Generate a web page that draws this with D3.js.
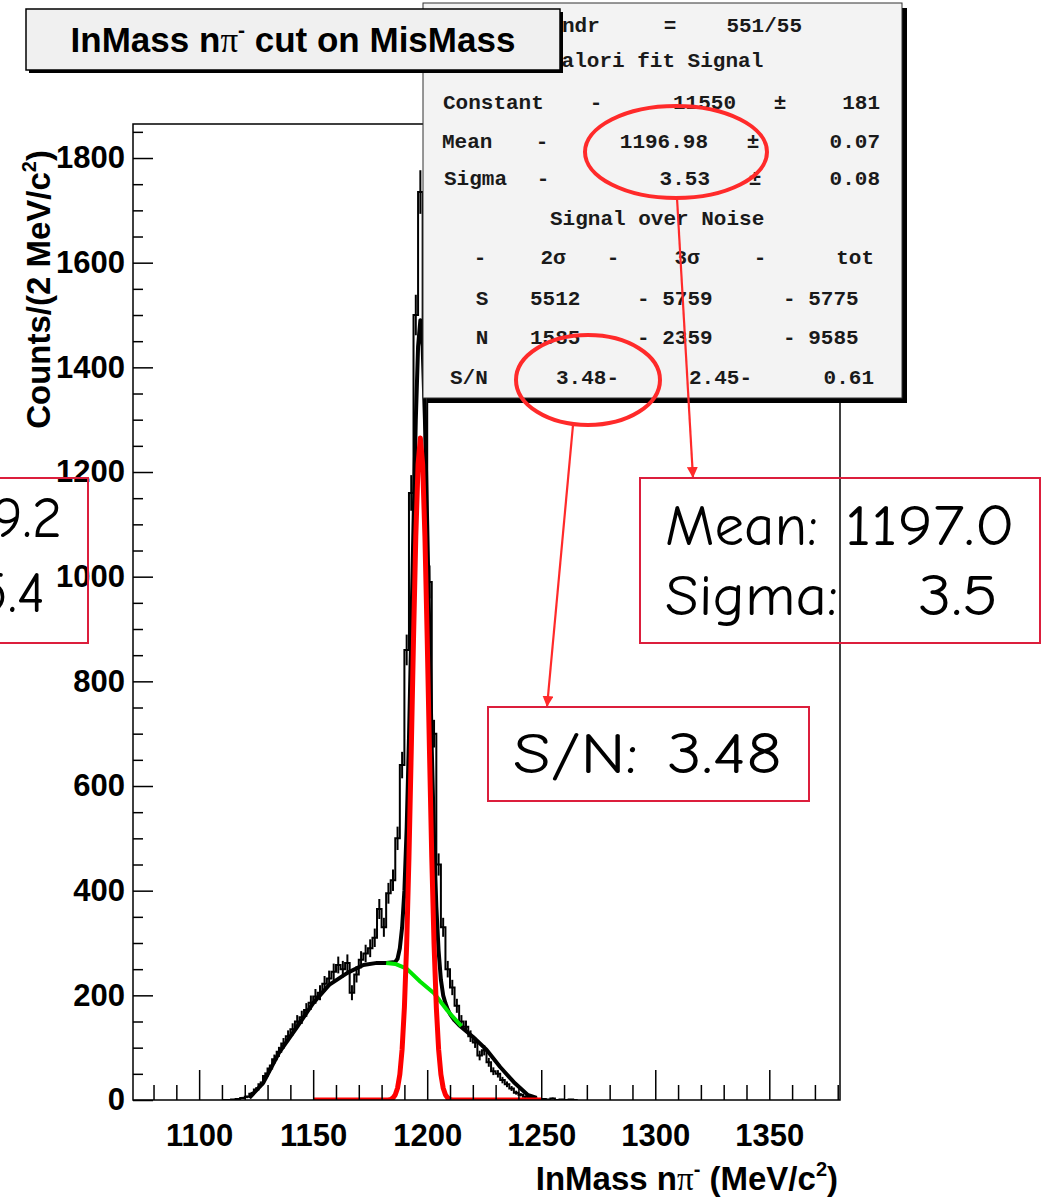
<!DOCTYPE html>
<html>
<head>
<meta charset="utf-8">
<script src="https://cdn.jsdelivr.net/npm/d3@7"></script>
<style>
  body { margin: 0; background: #fff; }
</style>
</head>
<body>
<svg width="1046" height="1198"></svg>
<script>
// histogram bins (2 MeV wide)
var binCenters = [1111, 1113, 1115, 1117, 1119, 1121, 1123, 1125, 1127, 1129,
                  1131, 1133, 1135, 1137, 1139, 1141, 1143, 1145, 1147, 1149,
                  1151, 1153, 1155, 1157, 1159, 1161, 1163, 1165, 1167, 1169,
                  1171, 1173, 1175, 1177, 1179, 1181, 1183, 1185, 1187, 1189,
                  1191, 1193, 1195, 1197, 1199, 1201, 1203, 1205, 1207, 1209,
                  1211, 1213, 1215, 1217, 1219, 1221, 1223, 1225, 1227, 1229,
                  1231, 1233, 1235, 1237, 1239, 1241, 1243, 1245, 1247, 1249,
                  1251, 1253, 1255, 1257, 1259, 1261, 1263, 1265];
var counts = [0, 0, 1, 2, 4, 6, 12, 20, 30, 46,
              60, 78, 92, 108, 122, 135, 150, 158, 172, 186,
              198, 205, 222, 232, 245, 258, 250, 262, 205, 240,
              268, 280, 290, 310, 365, 330, 395, 420, 500, 640,
              860, 1160, 1500, 1735, 1420, 990, 700, 450, 330, 250,
              215, 180, 150, 140, 122, 110, 85, 95, 72, 55,
              50, 38, 30, 22, 14, 10, 6, 4, 3, 2,
              2, 1, 3, 0, 1, 0, 1, 0];

// total fit (black)
var fitX = [1122, 1128, 1135, 1143, 1150, 1157, 1165, 1172, 1178, 1182, 1185, 1186,
            1187, 1188, 1189, 1190, 1191, 1192, 1193, 1194, 1195, 1196, 1197, 1198,
            1199, 1200, 1201, 1202, 1203, 1204, 1205, 1206, 1207, 1208, 1209, 1210,
            1212, 1214, 1220, 1226, 1232, 1238, 1244, 1248];
var fitY = [4, 32, 90, 140, 185, 220, 243, 258, 262, 262, 263, 264,
            270, 290, 330, 400, 520, 690, 890, 1100, 1300, 1440, 1490, 1440,
            1300, 1100, 880, 670, 500, 370, 285, 230, 200, 185, 173, 164,
            152, 143, 121, 96, 63, 34, 10, 4];

// background (green)
var bgX = [1182, 1186, 1191, 1197, 1203, 1209, 1215];
var bgY = [262, 260, 251, 226, 204, 170, 141];

// signal gaussian (red)
var gausX = [1150, 1183, 1184, 1185, 1186, 1187, 1188, 1189, 1190, 1191, 1192, 1193,
             1194, 1195, 1196, 1197, 1198, 1199, 1200, 1201, 1202, 1203, 1204,
             1205, 1206, 1207, 1208, 1209, 1210, 1211, 1250];
var gausY = [0, 0, 1, 4, 10, 23, 49, 97, 177, 298, 464, 666,
             882, 1077, 1215, 1265, 1215, 1077, 882, 666, 464, 298, 177,
             97, 49, 23, 10, 4, 1, 0, 0];

var yMajor = [0, 200, 400, 600, 800, 1000, 1200, 1400, 1600, 1800];
var xMajor = [1100, 1150, 1200, 1250, 1300, 1350];

var svg = d3.select("svg");
var sans = "'Liberation Sans', Arial, Helvetica, sans-serif";
var mono = "'Liberation Mono', 'Courier New', monospace";
var hand = "'Comic Sans MS', 'Comic Neue', 'Open Sans', sans-serif";

var x = d3.scaleLinear().domain([1071, 1381]).range([133, 840]),
    y = d3.scaleLinear().domain([0, 1865]).range([1100, 124]);

svg.append("defs").append("clipPath").attr("id", "plot")
  .append("rect")
    .attr("x", x.range()[0]).attr("y", y.range()[1])
    .attr("width", x.range()[1] - x.range()[0])
    .attr("height", y.range()[0] - y.range()[1]);

var plot = svg.append("g").attr("clip-path", "url(#plot)");

// data histogram: steps + error bars
var edges = [];
binCenters.forEach(function(c, i) {
  edges.push([c - 1, counts[i]], [c + 1, counts[i]]);
});
var line = d3.line()
    .x(function(d) { return x(d[0]); })
    .y(function(d) { return y(d[1]); });

plot.append("path")
    .datum(edges)
    .attr("fill", "none")
    .attr("stroke", "#000")
    .attr("stroke-width", 2)
    .attr("d", line);

plot.selectAll(".err")
  .data(binCenters.map(function(c, i) { return [c, counts[i]]; })
                  .filter(function(d) { return d[1] > 0; }))
  .enter().append("line")
    .attr("class", "err")
    .attr("x1", function(d) { return x(d[0]); })
    .attr("x2", function(d) { return x(d[0]); })
    .attr("y1", function(d) { return y(d[1] - Math.sqrt(d[1])); })
    .attr("y2", function(d) { return y(d[1] + Math.sqrt(d[1])); })
    .attr("stroke", "#000")
    .attr("stroke-width", 2);

function curve(xs, ys, color, w) {
  plot.append("path")
      .datum(xs.map(function(v, i) { return [v, ys[i]]; }))
      .attr("fill", "none")
      .attr("stroke", color)
      .attr("stroke-width", w)
      .attr("stroke-linejoin", "round")
      .attr("d", line);
}
curve(fitX, fitY, "#000", 4);
curve(bgX, bgY, "#00e600", 4);
curve(gausX, gausY, "#ff0000", 5);

// frame
svg.append("rect")
    .attr("x", 133).attr("y", 124)
    .attr("width", 707).attr("height", 976)
    .attr("fill", "none")
    .attr("stroke", "#000")
    .attr("stroke-width", 1.5);

// axes
function styleAxis(g) {
  g.select(".domain").remove();
  g.selectAll(".tick line").attr("stroke", "#000").attr("stroke-width", 1.5);
  g.selectAll(".tick text")
    .attr("fill", "#000")
    .style("font-family", sans)
    .style("font-weight", "bold")
    .style("font-size", "31px");
}

var yMinor = d3.range(0, 1851, 50).filter(function(v) { return v % 200; });
svg.append("g").attr("transform", "translate(133,0)")
    .call(d3.axisLeft(y).tickValues(yMinor).tickSize(-10).tickFormat(""))
    .call(styleAxis);
svg.append("g").attr("transform", "translate(133,0)")
    .call(d3.axisLeft(y).tickValues(yMajor).tickSize(-20).tickPadding(8).tickFormat(d3.format("d")))
    .call(styleAxis);

var xMinor = d3.range(1080, 1381, 10).filter(function(v) { return v % 50; });
svg.append("g").attr("transform", "translate(0,1100)")
    .call(d3.axisBottom(x).tickValues(xMinor).tickSize(-15).tickFormat(""))
    .call(styleAxis);
svg.append("g").attr("transform", "translate(0,1100)")
    .call(d3.axisBottom(x).tickValues(xMajor).tickSize(-30).tickPadding(24).tickFormat(d3.format("d")))
    .call(styleAxis);

// text with superscripts: parts = [[text, kind]], kind: "sup" | "pi" | undefined
function rich(t, parts, size) {
  var shift = Math.round(size * 0.42), back = 0;
  parts.forEach(function(p) {
    var s = t.append("tspan").text(p[0]);
    if (back) { s.attr("dy", back); back = 0; }
    if (p[1] === "sup") {
      s.attr("dy", -shift).style("font-size", Math.round(size * 0.6) + "px");
      back = shift;
    } else if (p[1] === "pi") {
      s.style("font-family", "'Liberation Serif', 'DejaVu Serif', serif").style("font-weight", "normal");
    }
  });
}

var yTitle = svg.append("text")
    .attr("transform", "translate(50,150) rotate(-90)")
    .attr("text-anchor", "end")
    .style("font-family", sans).style("font-weight", "bold").style("font-size", "33px");
rich(yTitle, [["Counts/(2 MeV/c"], ["2", "sup"], [")"]], 33);

var xTitle = svg.append("text")
    .attr("x", 838).attr("y", 1190)
    .attr("text-anchor", "end")
    .style("font-family", sans).style("font-weight", "bold").style("font-size", "33px");
rich(xTitle, [["InMass n"], ["\u03c0", "pi"], ["-", "sup"], [" (MeV/c"], ["2", "sup"], [")"]], 33);

// stats box
var sb = {x: 423, y: 3, w: 479, h: 395};
svg.append("rect").attr("x", sb.x + 5).attr("y", sb.y + 5)
    .attr("width", sb.w).attr("height", sb.h).attr("fill", "#000");
svg.append("rect").attr("x", sb.x).attr("y", sb.y)
    .attr("width", sb.w).attr("height", sb.h)
    .attr("fill", "#f3f3f3").attr("stroke", "#333").attr("stroke-width", 1);

var statRows = [
  [25,  [["ndr", 562, "start"], ["=", 670, "middle"], ["551/55", 802, "end"]]],
  [60,  [["Valori fit Signal", 549, "start"]]],
  [102, [["Constant", 443, "start"], ["-", 596, "middle"], ["11550", 736, "end"], ["\u00b1", 780, "middle"], ["181", 880, "end"]]],
  [141, [["Mean", 442, "start"], ["-", 542, "middle"], ["1196.98", 708, "end"], ["\u00b1", 753, "middle"], ["0.07", 880, "end"]]],
  [178, [["Sigma", 444, "start"], ["-", 543, "middle"], ["3.53", 710, "end"], ["\u00b1", 755, "middle"], ["0.08", 880, "end"]]],
  [218, [["Signal over Noise", 550, "start"]]],
  [257, [["-", 480, "middle"], ["2\u03c3", 553, "middle"], ["-", 613, "middle"], ["3\u03c3", 687, "middle"], ["-", 760, "middle"], ["tot", 874, "end"]]],
  [298, [["S", 482, "middle"], ["5512", 530, "start"], ["- 5759", 637, "start"], ["- 5775", 783, "start"]]],
  [337, [["N", 482, "middle"], ["1585", 530, "start"], ["- 2359", 637, "start"], ["- 9585", 783, "start"]]],
  [377, [["S/N", 450, "start"], ["3.48-", 556, "start"], ["2.45-", 689, "start"], ["0.61", 874, "end"]]]
];
statRows.forEach(function(r) {
  r[1].forEach(function(c) {
    svg.append("text")
        .attr("x", c[1]).attr("y", r[0] + 7)
        .attr("text-anchor", c[2])
        .attr("fill", "#1a1a1a")
        .style("font-family", mono).style("font-weight", "bold").style("font-size", "21px")
        .text(c[0]);
  });
});

// title box
var tb = {x: 26, y: 9, w: 534, h: 61};
svg.append("rect").attr("x", tb.x + 3).attr("y", tb.y + 3)
    .attr("width", tb.w).attr("height", tb.h).attr("fill", "#000");
svg.append("rect").attr("x", tb.x).attr("y", tb.y)
    .attr("width", tb.w).attr("height", tb.h)
    .attr("fill", "#f0f0f0").attr("stroke", "#000").attr("stroke-width", 1.5);
var title = svg.append("text")
    .attr("x", tb.x + tb.w / 2).attr("y", 52)
    .attr("text-anchor", "middle")
    .style("font-family", sans).style("font-weight", "bold").style("font-size", "35px");
rich(title, [["InMass n"], ["\u03c0", "pi"], ["-", "sup"], [" cut on MisMass"]], 35);

// annotations
var red = "#ff2a2a", boxRed = "#dc1e3c";
svg.append("defs").append("marker")
    .attr("id", "head").attr("viewBox", "0 0 10 10")
    .attr("refX", 10).attr("refY", 5)
    .attr("markerWidth", 5).attr("markerHeight", 5)
    .attr("markerUnits", "strokeWidth")
    .attr("orient", "auto")
  .append("path").attr("d", "M0,0L10,5L0,10z").attr("fill", red);

[[676, 152, 91, 46], [588, 380, 72, 45]].forEach(function(e) {
  svg.append("ellipse")
      .attr("cx", e[0]).attr("cy", e[1]).attr("rx", e[2]).attr("ry", e[3])
      .attr("fill", "none").attr("stroke", red).attr("stroke-width", 4);
});
[[677, 198, 693, 478], [573, 425, 547, 707]].forEach(function(a) {
  svg.append("line")
      .attr("x1", a[0]).attr("y1", a[1]).attr("x2", a[2]).attr("y2", a[3])
      .attr("stroke", red).attr("stroke-width", 2.2)
      .attr("marker-end", "url(#head)");
});

[[-5, 478, 93, 165], [640, 478, 400, 165], [488, 707, 321, 94]].forEach(function(b) {
  svg.append("rect")
      .attr("x", b[0]).attr("y", b[1]).attr("width", b[2]).attr("height", b[3])
      .attr("fill", "none").attr("stroke", boxRed).attr("stroke-width", 2);
});

var notes = [
  ["Mean: 1189.2", 62, 537, "end", 0],
  ["Sigma:   5.4", 45, 612, "end", 0],
  ["Mean:", 665, 545, "start", 153],
  ["1197.0", 845, 545, "start", 170],
  ["Sigma:", 665, 615, "start", 173],
  ["3.5", 918, 615, "start", 80],
  ["S/N:", 513, 773, "start", 125],
  ["3.48", 667, 773, "start", 115]
];
notes.forEach(function(n) {
  var t = svg.append("text")
      .attr("x", n[1]).attr("y", n[2])
      .attr("text-anchor", n[3])
      .attr("fill", "#000")
      .style("font-family", hand).style("font-size", "58px")
      .text(n[0]);
  if (n[4]) t.attr("textLength", n[4]).attr("lengthAdjust", "spacingAndGlyphs");
});
</script>
</body>
</html>
